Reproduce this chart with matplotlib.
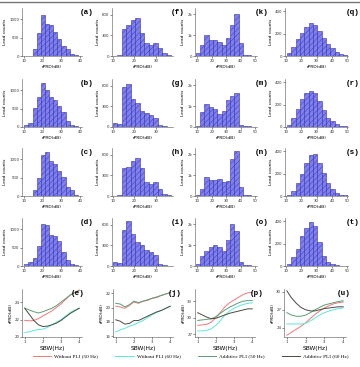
import numpy as np
import matplotlib
matplotlib.use('Agg')
import matplotlib.pyplot as plt
from matplotlib.lines import Line2D

plt.rcParams['font.family'] = 'DejaVu Sans'
plt.rcParams['hatch.linewidth'] = 0.3
plt.rcParams['axes.linewidth'] = 0.4

W, H = 360, 367

# histogram bin edges per column (rPRD in dB)
edges_c1 = 10.3 + 2.2 * np.arange(14)
edges_c2 = 10.0 + 2.1 * np.arange(14)
edges_c3 = 9.0 + 2.95 * np.arange(15)
edges_c4 = 10.5 + 2.85 * np.arange(15)

# lead counts per bin, columns (a-d), (f-i), (k-o), (q-t)
hist_a = [0, 0, 200, 620, 1100, 880, 830, 650, 470, 260, 200, 60, 20]
hist_b = [50, 120, 520, 800, 1180, 1000, 800, 740, 580, 400, 170, 60, 20]
hist_c = [0, 0, 150, 480, 1120, 1180, 940, 860, 690, 520, 250, 170, 40]
hist_d = [60, 100, 210, 550, 1130, 1120, 840, 800, 690, 390, 150, 60, 20]

hist_f = [0, 15, 400, 450, 520, 550, 330, 185, 160, 195, 110, 50, 15]
hist_g = [55, 50, 585, 620, 410, 345, 235, 200, 170, 130, 35, 20, 0]
hist_h = [0, 10, 410, 430, 505, 550, 410, 200, 180, 200, 105, 35, 10]
hist_i = [60, 50, 520, 660, 470, 350, 300, 240, 205, 155, 35, 20, 0]

hist_k = [125, 550, 985, 780, 750, 670, 515, 875, 1500, 2000, 625, 50, 45, 20]
hist_m = [30, 710, 1080, 970, 870, 630, 760, 1270, 1480, 1650, 110, 30, 30, 15]
hist_n = [60, 340, 920, 765, 765, 810, 655, 700, 1750, 2140, 420, 60, 30, 15]
hist_o = [110, 470, 710, 920, 1000, 890, 710, 1240, 2000, 1690, 190, 30, 30, 0]

hist_q = [28, 85, 150, 205, 262, 300, 282, 225, 158, 107, 70, 37, 22, 8]
hist_r = [15, 85, 165, 250, 305, 320, 305, 230, 150, 85, 50, 30, 12, 6]
hist_s = [12, 47, 115, 200, 300, 365, 372, 297, 210, 115, 60, 28, 12, 6]
hist_t = [20, 85, 155, 265, 340, 390, 355, 215, 93, 35, 20, 6, 0, 0]

# bottom row: rPRD vs SBW
sbw = [1, 1.25, 1.5, 1.75, 2, 2.25, 2.5, 2.75, 3, 3.25, 3.5, 3.75, 4]
series_names = ['Without PLI (50 Hz)', 'Without PLI (60 Hz)',
                'Additive PLI (50 Hz)', 'Additive PLI (60 Hz)']
series_colors = ['#f07878', '#5ce8d8', '#5c9c78', '#4a4a40']

e_wo50 = [21.9, 21.85, 21.9, 22.1, 22.4, 22.7, 23.0, 23.4, 23.8, 24.3, 24.8, 25.1, 25.4]
e_wo60 = [20.5, 20.6, 20.75, 20.85, 20.9, 21.1, 21.4, 21.7, 22.0, 22.4, 22.8, 23.1, 23.3]
e_ad50 = [23.3, 23.1, 22.9, 22.75, 22.9, 23.1, 23.3, 23.6, 24.0, 24.4, 24.8, 25.1, 25.3]
e_ad60 = [23.3, 22.6, 21.9, 21.4, 21.2, 21.25, 21.4, 21.6, 21.9, 22.3, 22.7, 23.0, 23.3]

j_wo50 = [20.2, 20.1, 19.9, 20.3, 20.8, 20.6, 20.9, 21.0, 21.3, 21.4, 21.7, 21.9, 22.1]
j_wo60 = [16.6, 16.9, 17.1, 17.4, 17.6, 17.9, 18.2, 18.6, 19.0, 19.3, 19.6, 19.9, 20.2]
j_ad50 = [20.6, 20.5, 20.1, 20.4, 20.9, 20.7, 20.9, 21.1, 21.3, 21.5, 21.7, 21.9, 22.1]
j_ad60 = [18.3, 18.1, 17.7, 17.8, 18.2, 18.2, 18.5, 18.8, 19.1, 19.4, 19.6, 19.9, 20.2]

p_wo50 = [28.6, 28.7, 28.8, 29.2, 30.0, 31.0, 32.0, 32.7, 33.2, 33.7, 34.2, 34.5, 34.6]
p_wo60 = [27.6, 27.6, 27.7, 28.0, 28.6, 29.5, 30.5, 31.2, 31.7, 32.1, 32.4, 32.6, 32.7]
p_ad50 = [29.5, 29.6, 29.7, 29.8, 30.2, 30.8, 31.4, 31.9, 32.3, 32.7, 33.0, 33.1, 33.1]
p_ad60 = [30.9, 30.5, 30.1, 29.8, 29.9, 30.2, 30.5, 30.8, 31.0, 31.2, 31.4, 31.6, 31.6]

u_wo50 = [22.7, 23.2, 23.7, 24.2, 24.8, 25.5, 26.2, 26.8, 27.3, 27.7, 28.0, 28.2, 28.3]
u_wo60 = [24.6, 24.6, 24.6, 24.6, 24.7, 25.1, 25.6, 26.1, 26.5, 26.8, 27.0, 27.2, 27.3]
u_ad50 = [26.5, 26.1, 25.9, 25.9, 26.1, 26.5, 27.0, 27.4, 27.8, 28.0, 28.2, 28.4, 28.5]
u_ad60 = [30.2, 29.0, 28.1, 27.4, 27.0, 26.8, 26.8, 27.0, 27.2, 27.3, 27.4, 27.5, 27.5]


def box(left, top, width, height):
    return [left / W, 1 - (top + height) / H, width / W, height / H]


def style(ax):
    for s in ['top', 'right']:
        ax.spines[s].set_visible(False)
    for s in ['left', 'bottom']:
        ax.spines[s].set_color('#555555')
    ax.tick_params(labelsize=2.8, length=1.2, width=0.4, pad=0.8, colors='#333333')


def tag(ax, txt, x=1.08, y=0.9):
    ax.text(x, y, txt, transform=ax.transAxes, ha='center', va='center',
            family='Liberation Mono', fontweight='bold', fontsize=5.5)


fig = plt.figure(figsize=(W / 100, H / 100), dpi=100)

columns = [
    (edges_c1, [hist_a, hist_b, hist_c, hist_d], ['(a)', '(b)', '(c)', '(d)'],
     (9.1, 41), [10, 20, 30, 40], (0, 1300), [0, 500, 1000], ['0', '500', '1000']),
    (edges_c2, [hist_f, hist_g, hist_h, hist_i], ['(f)', '(g)', '(h)', '(i)'],
     (9.7, 38), [10, 20, 30], (0, 700), [0, 300, 600], ['0', '300', '600']),
    (edges_c3, [hist_k, hist_m, hist_n, hist_o], ['(k)', '(m)', '(n)', '(o)'],
     (8.4, 51.2), [10, 20, 30, 40, 50], (0, 2300), [0, 1000, 2000], ['0', '1k', '2k']),
    (edges_c4, [hist_q, hist_r, hist_s, hist_t], ['(q)', '(r)', '(s)', '(t)'],
     (9.3, 50.5), [10, 20, 30, 40, 50], (0, 430), [0, 200, 400], ['0', '200', '400']),
]
col_left = [22, 112, 195, 285]
col_width = [60, 61, 62, 63]
row_top = [8, 79, 148, 218]

for ci, (edges, hists, tags, xl, xt, yl, yt, ytl) in enumerate(columns):
    for ri, counts in enumerate(hists):
        ax = fig.add_axes(box(col_left[ci], row_top[ri], col_width[ci], 48))
        ax.hist(edges[:-1], bins=edges, weights=counts, color='#7f7ff0',
                edgecolor='#3434a8', linewidth=0.4, hatch='//////')
        ax.set_xlim(*xl)
        ax.set_ylim(*yl)
        ax.set_xticks(xt)
        ax.set_yticks(yt)
        ax.set_yticklabels(ytl)
        style(ax)
        ax.set_xlabel('rPRD(dB)', fontsize=3.2, labelpad=1.5)
        ax.set_ylabel('Lead counts', fontsize=3.2, labelpad=1.5)
        tag(ax, tags[ri])

line_panels = [
    ([e_wo50, e_wo60, e_ad50, e_ad60], '(e)', (20, 25.5), [20, 22, 24], 0.92),
    ([j_wo50, j_wo60, j_ad50, j_ad60], '(j)', (15.9, 22.6), [16, 18, 20, 22], 1.03),
    ([p_wo50, p_wo60, p_ad50, p_ad60], '(p)', (26.5, 35.2), [27, 30, 33], 1.03),
    ([u_wo50, u_wo60, u_ad50, u_ad60], '(u)', (22.4, 30.5), [24, 27, 30], 0.97),
]
line_left = [22, 113, 195, 284]
line_width = [60, 60, 60, 62]

handles = None
for li, (ys, t, yl, yt, tx) in enumerate(line_panels):
    ax = fig.add_axes(box(line_left[li], 289, line_width[li], 48))
    hs = []
    for y, c, n in zip(ys, series_colors, series_names):
        h, = ax.plot(sbw, y, color=c, lw=0.7, label=n)
        hs.append(h)
    handles = hs
    ax.set_xlim(0.85, 4.15)
    ax.set_xticks([1, 2, 3, 4])
    ax.set_ylim(*yl)
    ax.set_yticks(yt)
    style(ax)
    ax.set_xlabel('SBW(Hz)', fontsize=4.2, labelpad=1.5)
    ax.set_ylabel('rPRD(dB)', fontsize=3.2, labelpad=1.5)
    tag(ax, t, x=tx, y=0.9)

fig.legend(handles, series_names, loc='center', bbox_to_anchor=(0.53, 1 - 356 / H),
           ncol=4, frameon=False, handlelength=3.5, columnspacing=3.2,
           handletextpad=0.6, prop={'family': 'Liberation Serif', 'size': 3.8})

fig.add_artist(Line2D([0.0, 1.0], [1 - 1.5 / H, 1 - 1.5 / H], color='#777777', lw=1.0))

fig.savefig('out.png', dpi=100)
